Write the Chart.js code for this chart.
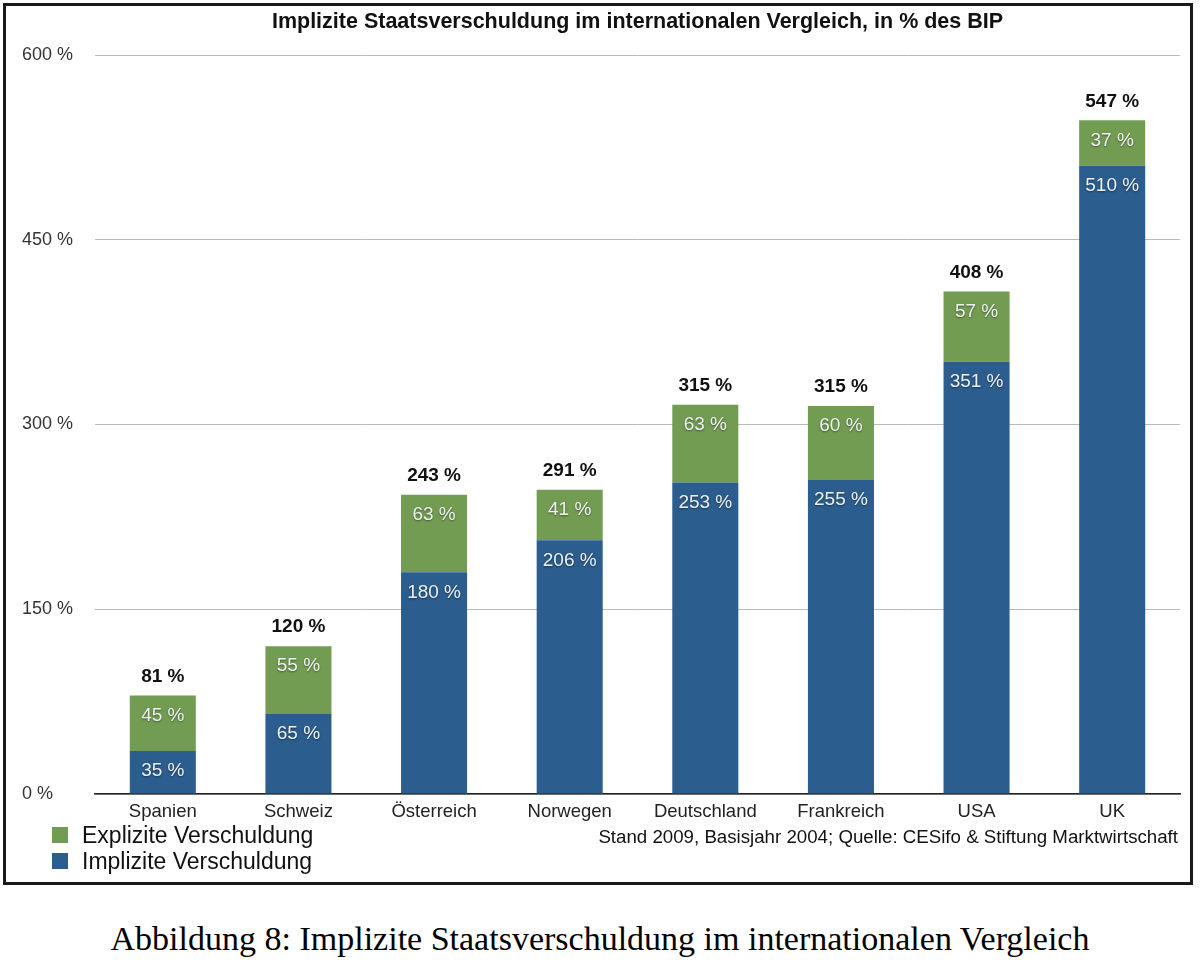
<!DOCTYPE html>
<html>
<head>
<meta charset="utf-8">
<script src="https://cdn.jsdelivr.net/npm/chart.js@4"></script>
<style>
  body { margin: 0; background: #fff; width: 1200px; height: 963px; position: relative; }
  #box { position: absolute; left: 3px; top: 3px; width: 1184px; height: 876px; border: 3px solid #1a1a1a; background: #fff; }
  #box canvas { position: absolute; left: 0; top: 0; }
  #caption { position: absolute; left: 0; width: 1200px; top: 920px; text-align: center;
    font-family: "Liberation Serif", "Times New Roman", serif; font-size: 34px; color: #000; }
</style>
</head>
<body>
<div id="box"><canvas id="chart" width="1184" height="876"></canvas></div>
<div id="caption">Abbildung 8: Implizite Staatsverschuldung im internationalen Vergleich</div>
<script>
const categories = ["Spanien", "Schweiz", "Österreich", "Norwegen", "Deutschland", "Frankreich", "USA", "UK"];
const implicitDebt = [35, 65, 180, 206, 253, 255, 351, 510];
const explicitDebt = [45, 55, 63, 41, 63, 60, 57, 37];
const totalLabels = [81, 120, 243, 291, 315, 315, 408, 547];
const yTicks = [0, 150, 300, 450, 600];

const titleText = "Implizite Staatsverschuldung im internationalen Vergleich, in % des BIP";
const sourceText = "Stand 2009, Basisjahr 2004; Quelle: CESifo & Stiftung Marktwirtschaft";

const FONT = "'Liberation Sans', Arial, Helvetica, sans-serif";
const BLUE = "#2b5d8f";
const GREEN = "#739c53";

// labels, title, legend and source note
const annotations = {
  id: 'annotations',
  afterDatasetsDraw(chart) {
    const {ctx, chartArea} = chart;
    ctx.save();
    ctx.textAlign = 'center';
    ctx.textBaseline = 'middle';

    // values inside each segment, near its top
    ctx.font = "19px " + FONT;
    ctx.fillStyle = "#eef1f3";
    ctx.shadowColor = "rgba(0,0,0,0.45)";
    ctx.shadowBlur = 2;
    ctx.shadowOffsetY = 1;
    chart.data.datasets.forEach((ds, di) => {
      chart.getDatasetMeta(di).data.forEach((bar, i) => {
        ctx.fillText(ds.data[i] + " %", bar.x, bar.y + 20);
      });
    });
    ctx.shadowColor = "transparent";

    // totals above bars
    ctx.font = "bold 19px " + FONT;
    ctx.fillStyle = "#111";
    const top = chart.getDatasetMeta(chart.data.datasets.length - 1).data;
    top.forEach((bar, i) => {
      ctx.fillText(totalLabels[i] + " %", bar.x, bar.y - 19);
    });

    // title
    ctx.font = "bold 21.5px " + FONT;
    ctx.fillText(titleText, (chartArea.left + chartArea.right) / 2, 16);

    // legend, explicit on top
    ctx.textAlign = 'left';
    ctx.font = "23px " + FONT;
    const order = [1, 0];
    order.forEach((di, k) => {
      const ds = chart.data.datasets[di];
      const y = 829 + k * 26;
      ctx.fillStyle = ds.backgroundColor;
      ctx.fillRect(46, y - 8, 16, 16);
      ctx.fillStyle = "#111";
      ctx.fillText(ds.label, 76, y + 2);
    });

    // source note
    ctx.textAlign = 'right';
    ctx.font = "18.7px " + FONT;
    ctx.fillStyle = "#111";
    ctx.fillText(sourceText, 1172, 832);
    ctx.restore();
  }
};

new Chart(document.getElementById("chart"), {
  type: "bar",
  data: {
    labels: categories,
    datasets: [
      { label: "Implizite Verschuldung", data: implicitDebt, backgroundColor: BLUE },
      { label: "Explizite Verschuldung", data: explicitDebt, backgroundColor: GREEN },
    ],
  },
  plugins: [annotations],
  options: {
    responsive: false,
    animation: false,
    layout: { padding: { left: 16, right: 10, top: 49, bottom: 0 } },
    datasets: { bar: { categoryPercentage: 1, barPercentage: 0.487 } },
    plugins: {
      legend: { display: false },
      title: { display: false },
      tooltip: { enabled: false },
    },
    scales: {
      x: {
        stacked: true,
        grid: { display: false, drawTicks: false },
        border: { display: true, color: "#222", width: 1.5 },
        ticks: { color: "#222", padding: 7, font: { size: 18.5, family: FONT } },
        afterFit(scale) { scale.height = 88; },
      },
      y: {
        stacked: true,
        min: 0,
        max: 600,
        afterBuildTicks(scale) { scale.ticks = yTicks.map(v => ({ value: v })); },
        grid: { color: "#bdbab5", drawTicks: false },
        border: { display: false },
        ticks: {
          crossAlign: 'far',
          color: "#333",
          font: { size: 18, family: FONT },
          callback: v => v + " %",
        },
        afterFit(scale) { scale.width = 73; },
      },
    },
  },
});
</script>
</body>
</html>
